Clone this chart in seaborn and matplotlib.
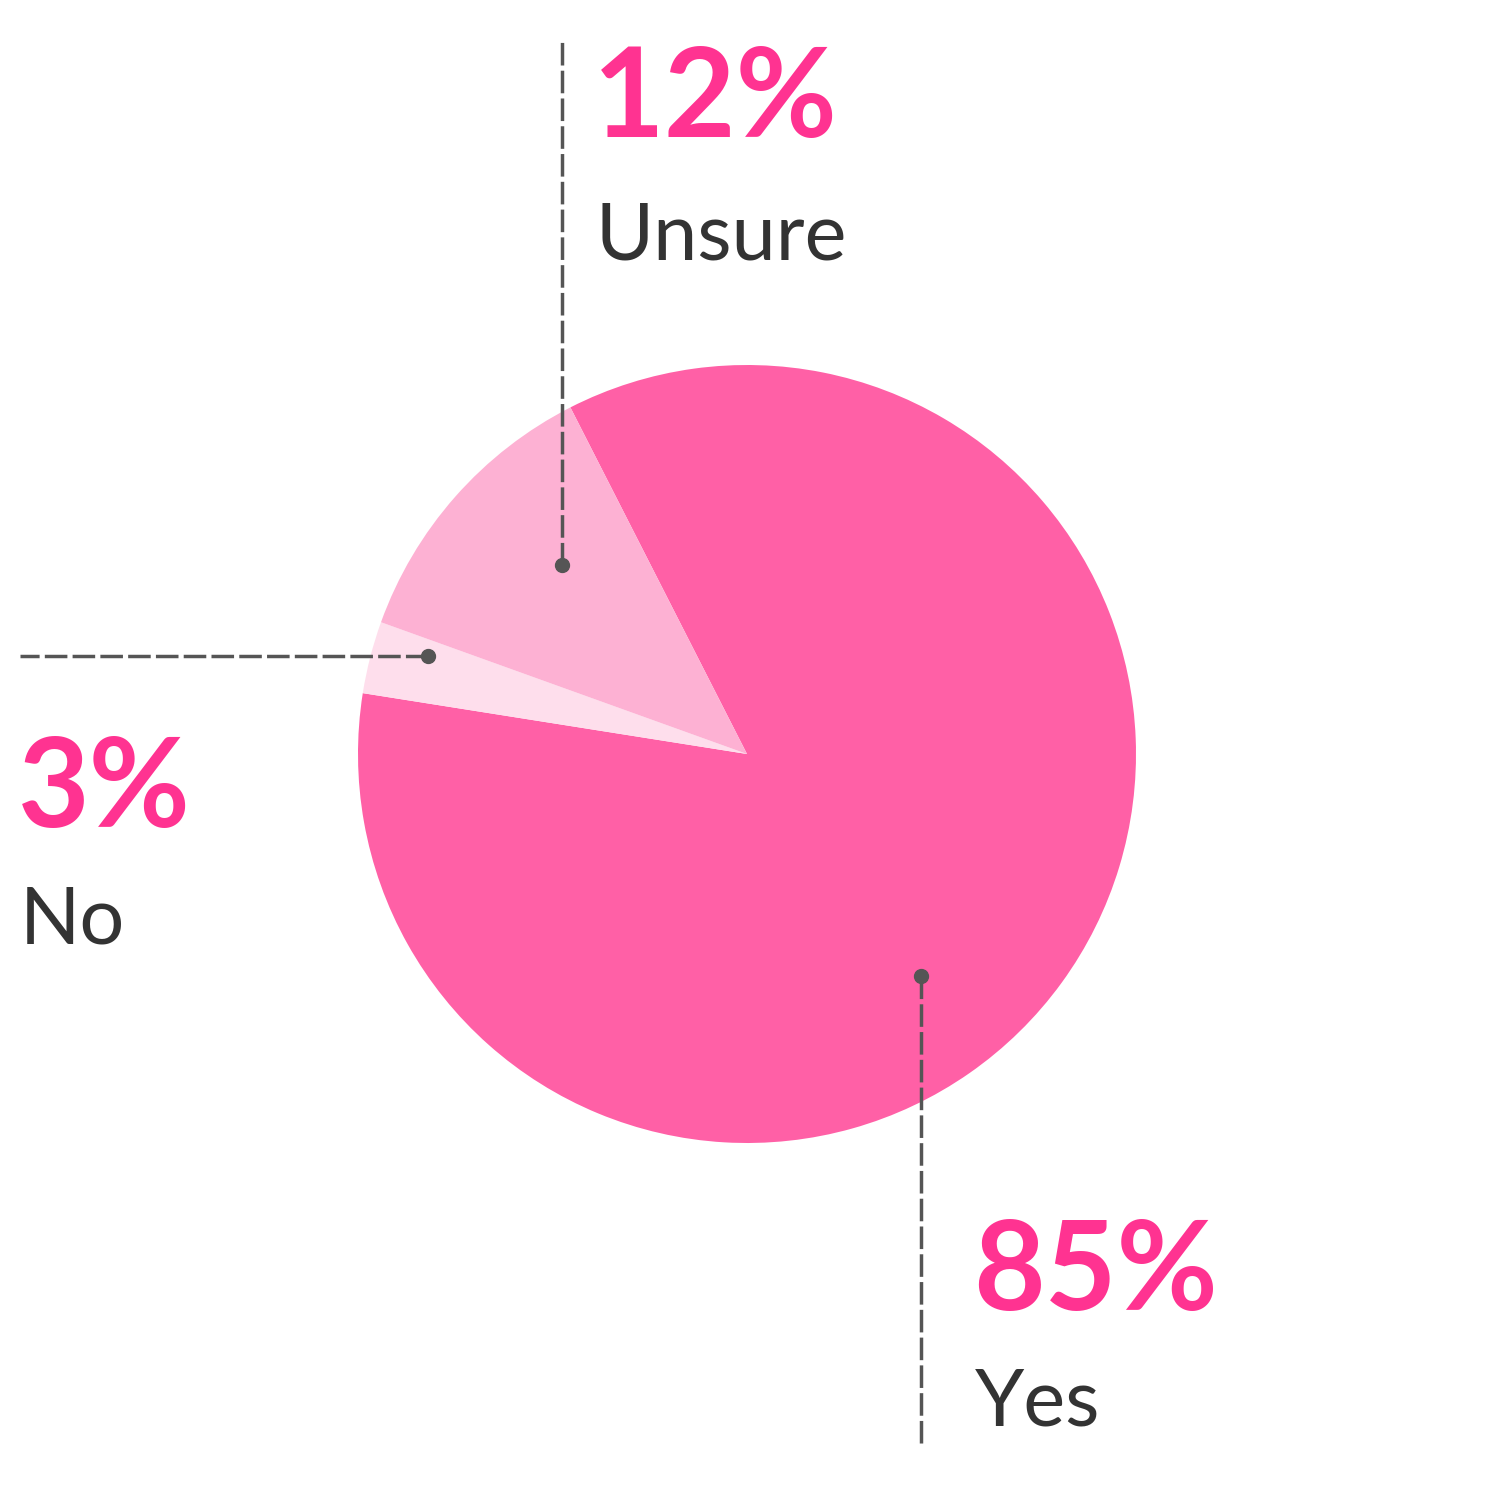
import matplotlib.pyplot as plt
import seaborn as sns

# data
labels = ['Yes', 'No', 'Unsure']
values = [85, 3, 12]
pct_labels = ['85%', '3%', '12%']
colors = ['#FF60A6', '#FEDEEC', '#FDB1D3']

sns.set_theme(style='white')
plt.rcParams['font.family'] = ['Lato', 'DejaVu Sans']

fig = plt.figure(figsize=(15, 15), dpi=100)
ax = fig.add_axes([0, 0, 1, 1])

# pie, drawn in pixel-like coords (y flipped: 1500 - py)
ax.pie(values, colors=colors, startangle=117, counterclock=False,
       center=(747, 746), radius=389, frame=True,
       wedgeprops=dict(linewidth=0))

ax.set_xlim(0, 1500)
ax.set_ylim(0, 1500)
ax.set_aspect('equal')
ax.axis('off')

line_col = '#555555'
dash = (0, (6.5, 1.5))

# leader lines + dots: (dot, line end, pct text, label text)
leaders = {
    'Unsure': ((562, 1500 - 565), (562, 1500 - 40), (593, 1500 - 137), (596, 1500 - 260)),
    'No': ((428, 1500 - 656), (20, 1500 - 656), (18, 1500 - 827), (20, 1500 - 943)),
    'Yes': ((921, 1500 - 976), (921, 1500 - 1445), (973, 1500 - 1310), (975, 1500 - 1425)),
}

for lab, pct in zip(labels, pct_labels):
    dot, end, ptxt, ltxt = leaders[lab]
    ax.plot([dot[0], end[0]], [dot[1], end[1]], color=line_col, lw=2.5,
            linestyle=dash, solid_capstyle='butt')
    ax.plot(dot[0], dot[1], 'o', color=line_col, ms=10)
    ax.text(ptxt[0], ptxt[1], pct, color='#FF3391', fontsize=89,
            fontweight='bold', ha='left', va='baseline')
    ax.text(ltxt[0], ltxt[1], lab, color='#333333', fontsize=57,
            ha='left', va='baseline')

plt.savefig('out.png', dpi=100, facecolor='white')
